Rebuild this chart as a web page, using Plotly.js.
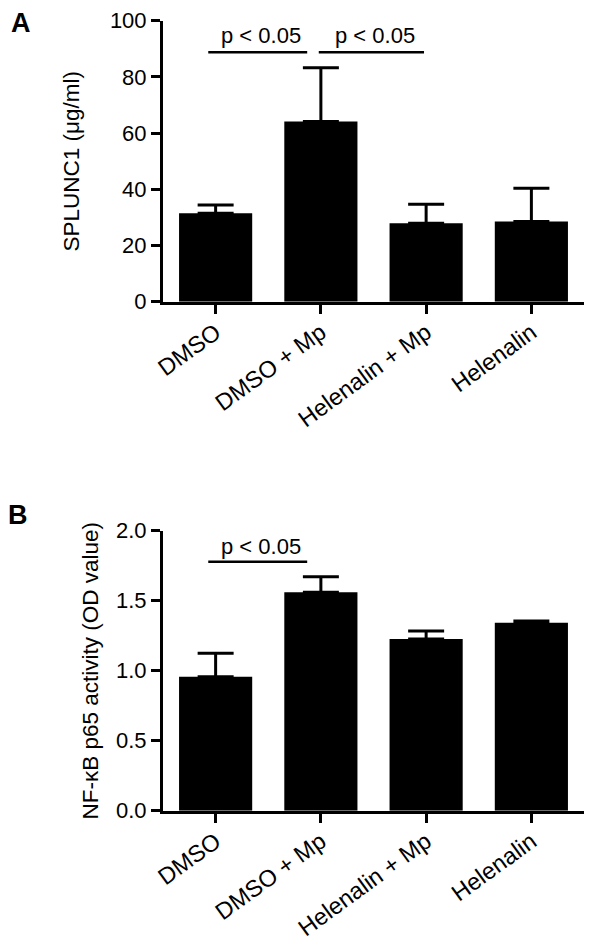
<!DOCTYPE html>
<html>
<head>
<meta charset="utf-8">
<script src="https://cdn.plot.ly/plotly-3.0.1.min.js"></script>
<style>html,body{margin:0;padding:0;background:#fff}#chart{width:600px;height:941px}</style>
</head>
<body>
<div id="chart"></div>
<script>
var categories = ["DMSO", "DMSO + Mp", "Helenalin + Mp", "Helenalin"];
var splunc1Mean = [31.5, 64.1, 27.9, 28.5];
var splunc1Err = [2.9, 19.2, 6.8, 11.9];
var nfkbMean = [0.957, 1.56, 1.226, 1.343];
var nfkbErr = [0.167, 0.111, 0.058, 0.012];
var sigLabel = "p < 0.05";

var FONT = "Liberation Sans, Arial, Helvetica, sans-serif";
var xDom = [163/600, 584/600];
var yDomA = [1 - 301.7/941, 1 - 20.7/941];
var yDomB = [1 - 810.7/941, 1 - 530.7/941];

function barTrace(y, err, xa, ya) {
  return {
    type: "bar", x: categories, y: y, xaxis: xa, yaxis: ya,
    width: 0.695,
    marker: {color: "#000", line: {width: 0}},
    error_y: {type: "data", array: err, arrayminus: err.map(function(){return 0;}),
              symmetric: false, color: "#000", thickness: 3, width: 18},
    showlegend: false, hoverinfo: "x+y"
  };
}

var data = [
  barTrace(splunc1Mean, splunc1Err, "x", "y"),
  barTrace(nfkbMean, nfkbErr, "x2", "y2")
];

function xAxis(dom, anchor) {
  return {
    domain: dom, anchor: anchor, type: "category", range: [-0.5, 3.5],
    showline: true, linewidth: 3, linecolor: "#000", mirror: false,
    ticks: "outside", ticklen: 9, tickwidth: 3, tickcolor: "#000",
    tickangle: -36, ticklabelstandoff: -4, showgrid: false, zeroline: false, automargin: false,
    tickfont: {family: FONT, size: 23.5, color: "#000"}
  };
}
function yAxis(dom, anchor, range, dtick, fmt, title, standoff) {
  return {
    domain: dom, anchor: anchor, range: range, tickmode: "linear", tick0: 0, dtick: dtick,
    tickformat: fmt,
    showline: true, linewidth: 3, linecolor: "#000",
    ticks: "outside", ticklen: 9, tickwidth: 3, tickcolor: "#000",
    showgrid: false, zeroline: false, automargin: false,
    tickfont: {family: FONT, size: 22, color: "#000"},
    title: {text: title, font: {family: FONT, size: 22.5, color: "#000"}, standoff: standoff}
  };
}

var layout = {
  width: 600, height: 941,
  margin: {l: 0, r: 0, t: 0, b: 0},
  paper_bgcolor: "#fff", plot_bgcolor: "#fff",
  font: {family: FONT, color: "#000"},
  xaxis: xAxis(xDom, "y"),
  yaxis: yAxis(yDomA, "x", [0, 100], 20, "d", "SPLUNC1 (μg/ml)", 24),
  xaxis2: xAxis(xDom, "y2"),
  yaxis2: yAxis(yDomB, "x2", [0, 2], 0.5, ".1f", "NF-κB p65 activity (OD value)", 12),
  shapes: [
    {type: "line", xref: "x", yref: "y", x0: -0.07, x1: 0.87, y0: 88.75, y1: 88.75, line: {color: "#000", width: 2.5}},
    {type: "line", xref: "x", yref: "y", x0: 0.98, x1: 1.98, y0: 88.75, y1: 88.75, line: {color: "#000", width: 2.5}},
    {type: "line", xref: "x2", yref: "y2", x0: -0.07, x1: 0.87, y0: 1.779, y1: 1.779, line: {color: "#000", width: 2.5}}
  ],
  annotations: [
    {xref: "x", yref: "y", x: 0.43, y: 88.75, text: sigLabel, showarrow: false, yanchor: "bottom", yshift: 2,
     font: {family: FONT, size: 22, color: "#000"}},
    {xref: "x", yref: "y", x: 1.51, y: 88.75, text: sigLabel, showarrow: false, yanchor: "bottom", yshift: 2,
     font: {family: FONT, size: 22, color: "#000"}},
    {xref: "x2", yref: "y2", x: 0.43, y: 1.779, text: sigLabel, showarrow: false, yanchor: "bottom", yshift: 1,
     font: {family: FONT, size: 22, color: "#000"}},
    {xref: "paper", yref: "paper", x: 21/600, y: 1 - 22.5/941, text: "<b>A</b>", showarrow: false,
     xanchor: "center", yanchor: "middle", font: {family: FONT, size: 27, color: "#000"}},
    {xref: "paper", yref: "paper", x: 18/600, y: 1 - 515/941, text: "<b>B</b>", showarrow: false,
     xanchor: "center", yanchor: "middle", font: {family: FONT, size: 27, color: "#000"}}
  ]
};

Plotly.newPlot("chart", data, layout, {staticPlot: true, displayModeBar: false});
</script>
</body>
</html>
